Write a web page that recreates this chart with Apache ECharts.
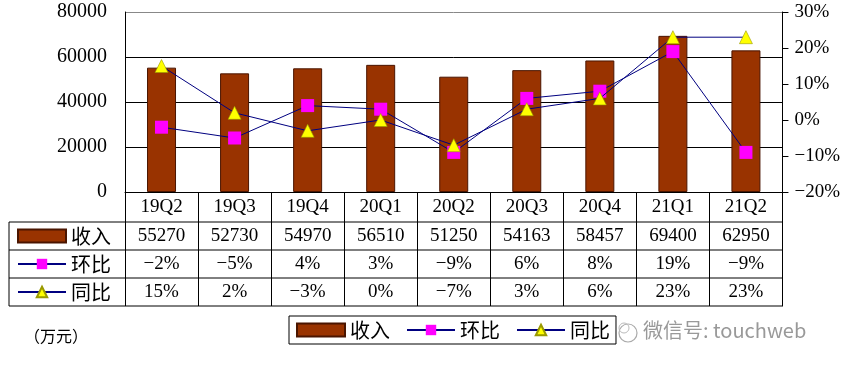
<!DOCTYPE html>
<html><head><meta charset="utf-8">
<script src="https://cdn.jsdelivr.net/npm/echarts@6/dist/echarts.min.js"></script>
<style>html,body{margin:0;padding:0;background:#fff}#c{width:843px;height:368px}</style>
</head><body><div id="c"></div>
<script>
const categories = ['19Q2','19Q3','19Q4','20Q1','20Q2','20Q3','20Q4','21Q1','21Q2'];
const revenue = [55270,52730,54970,56510,51250,54163,58457,69400,62950];
const qoq = [-2,-5,4,3,-9,6,8,19,-9];
const yoy = [15,2,-3,0,-7,3,6,23,23];
const seriesNames = ['收入','环比','同比'];
const unitLabel = '（万元）';
const watermark = '微信号: touchweb';

const G = {left:125, right:60, top:12, height:180};
const axisY = G.top + G.height; // 192
const rowLines = [222, 250, 278, 306];
const tableLeft = 9, tableRight = 843 - G.right;
const SERIF = "'Liberation Serif', 'Noto Sans CJK SC', serif";
const CJK = "'Noto Sans CJK SC', sans-serif";
const pct = v => (v < 0 ? '\u2212' + (-v) : '' + v) + '%';

const chart = echarts.init(document.getElementById('c'));
function rowAxis(data, margin, fmt) {
  return {
    type:'category', data:data, gridIndex:0, position:'bottom', offset:0,
    axisLine:{show:false}, axisTick:{show:false}, splitLine:{show:false},
    axisLabel:{interval:0, margin:margin, verticalAlign:'middle', fontSize:19, color:'#000', fontFamily:SERIF,
      formatter: fmt || (v => v)}
  };
}
const graphics = [];
rowLines.forEach(y => graphics.push({type:'line', shape:{x1:tableLeft, y1:y, x2:tableRight, y2:y}, style:{stroke:'#000', lineWidth:1}}));
graphics.push({type:'line', shape:{x1:tableLeft, y1:rowLines[0], x2:tableLeft, y2:rowLines[3]}, style:{stroke:'#000', lineWidth:1}});
graphics.push({type:'text', left:24, top:328, style:{text:unitLabel, fontSize:16, fontFamily:CJK, fill:'#000'}});
graphics.push({type:'circle', shape:{cx:628, cy:333, r:9}, style:{fill:'none', stroke:'#aaa', lineWidth:1.2}});
graphics.push({type:'circle', shape:{cx:624, cy:328, r:5}, style:{fill:'none', stroke:'#bbb', lineWidth:1}});
graphics.push({type:'text', left:643, top:320, style:{text:watermark, fontSize:20, fontFamily:CJK, fill:'#999'}});

const legendData = seriesNames.map((n, i) => i === 0 ? {name:n, icon:'rect'} : {name:n});
const legendBase = {
  data:legendData, selectedMode:false, itemWidth:48, itemHeight:13,
  textStyle:{fontSize:20, fontFamily:CJK, color:'#000', lineHeight:20}
};
chart.setOption({
  animation:false,
  backgroundColor:'#fff',
  grid:{left:G.left, right:G.right, top:G.top, height:G.height, containLabel:false},
  legend:[
    Object.assign({}, legendBase, {orient:'horizontal', left:289, top:316, itemGap:16,
      borderColor:'#000', borderWidth:1, padding:[4,6,4,7], backgroundColor:'#fff'}),
    Object.assign({}, legendBase, {orient:'vertical', left:17, top:226, itemGap:8, padding:0})
  ],
  xAxis:[
    {type:'category', data:categories, gridIndex:0, position:'bottom', offset:0,
      axisLine:{lineStyle:{color:'#000', width:1}},
      axisTick:{show:true, interval:0, length:rowLines[3]-axisY, lineStyle:{color:'#000', width:1}},
      axisLabel:{interval:0, margin:15, verticalAlign:'middle', fontSize:19, color:'#000', fontFamily:SERIF}},
    rowAxis(revenue.map(String), rowLines[0]+14-axisY),
    rowAxis(qoq, rowLines[1]+14-axisY, pct),
    rowAxis(yoy, rowLines[2]+14-axisY, pct)
  ],
  yAxis:[
    {type:'value', min:0, max:80000, interval:20000, position:'left',
      axisLine:{show:true, lineStyle:{color:'#000'}}, axisTick:{show:false},
      axisLabel:{margin:18, fontSize:20, color:'#000', fontFamily:SERIF, formatter:v => String(v)},
      splitLine:{show:true, lineStyle:{color:['#000','#000','#000','#000','#888'], width:1}}},
    {type:'value', min:-20, max:30, interval:10, position:'right',
      axisLine:{show:true, lineStyle:{color:'#000'}},
      axisTick:{show:true, length:6, inside:false, lineStyle:{color:'#000'}},
      axisLabel:{margin:12, fontSize:19, color:'#000', fontFamily:SERIF, formatter:pct},
      splitLine:{show:false}}
  ],
  series:[
    {name:'收入', type:'bar', xAxisIndex:0, yAxisIndex:0, data:revenue, barWidth:29,
      itemStyle:{color:'#993300', borderColor:'#4a1500', borderWidth:1}},
    {name:'环比', type:'line', xAxisIndex:0, yAxisIndex:1, data:qoq, symbol:'rect', symbolSize:13,
      lineStyle:{color:'#000080', width:1}, itemStyle:{color:'#ff00ff', borderWidth:0}, z:3},
    {name:'同比', type:'line', xAxisIndex:0, yAxisIndex:1, data:yoy, symbol:'triangle', symbolSize:13,
      lineStyle:{color:'#000080', width:1}, itemStyle:{color:'#ffff00', borderColor:'#999900', borderWidth:0.6}, z:4}
  ],
  graphic:graphics
});
</script></body></html>
